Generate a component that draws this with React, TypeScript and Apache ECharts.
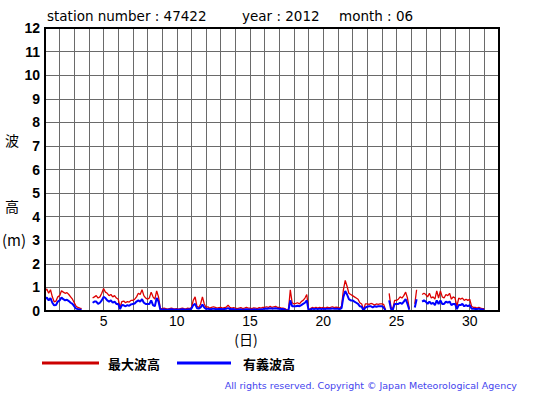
import React, { useEffect, useRef } from "react";
import * as echarts from "echarts";

// 3-hourly readings, day 1 00h .. day 31 00h
const maxWave: (number | null)[] = [
  // day 1
  0.85, 0.93, 0.75, 0.9, 0.6, 0.39, 0.42, 0.6,
  // day 2
  0.65, 0.86, 0.8, 0.75, 0.78, 0.7, 0.6, 0.5,
  // day 3
  0.35, 0.2, 0.15, 0.12, 0.1, null, 0.1, null,
  // day 4
  null, null, 0.55, 0.6, 0.65, 0.55, 0.6, 0.75,
  // day 5
  0.95, 0.8, 0.75, 0.65, 0.7, 0.6, 0.65, 0.55,
  // day 6
  0.5, 0.15, 0.4, 0.42, 0.35, 0.4, 0.38, 0.45,
  // day 7
  0.45, 0.5, 0.6, 0.75, 0.7, 0.9, 0.65, 0.55,
  // day 8
  0.5, 0.55, 0.8, 0.6, 0.5, 0.85, 0.6, 0.1,
  // day 9
  0.1, 0.12, 0.1, 0.08, 0.1, 0.12, 0.1, 0.09,
  // day 10
  0.1, 0.08, 0.1, 0.12, 0.1, 0.09, 0.12, 0.1,
  // day 11
  0.15, 0.45, 0.6, 0.2, 0.15, 0.3, 0.6, 0.3,
  // day 12
  0.15, 0.18, 0.12, 0.15, 0.18, 0.15, 0.12, 0.14,
  // day 13
  0.15, 0.12, 0.14, 0.16, 0.25, 0.15, 0.12, 0.14,
  // day 14
  0.12, 0.1, 0.12, 0.14, 0.1, 0.12, 0.15, 0.12,
  // day 15
  0.12, 0.1, 0.13, 0.12, 0.1, 0.14, 0.12, 0.15,
  // day 16
  0.15, 0.18, 0.15, 0.2, 0.15, 0.18, 0.2, 0.15,
  // day 17
  0.15, 0.12, 0.12, 0.1, 0.05, 0.05, 0.9, 0.35,
  // day 18
  0.3, 0.32, 0.35, 0.3, 0.4, 0.45, 0.55, 0.7,
  // day 19
  0.05, 0.1, 0.15, 0.12, 0.15, 0.12, 0.15, 0.13,
  // day 20
  0.15, 0.12, 0.16, 0.14, 0.15, 0.18, 0.14, 0.16,
  // day 21
  0.15, 0.12, 0.2, 0.9, 1.3, 1.05, 0.75, 0.7,
  // day 22
  0.65, 0.6, 0.55, 0.5, 0.35, 0.3, 0.05, 0.3,
  // day 23
  0.3, 0.28, 0.32, 0.3, 0.25, 0.3, 0.28, 0.3,
  // day 24
  0.3, 0.28, 0.05, null, 0.75, 0.15, 0.1, 0.45,
  // day 25
  0.45, 0.5, 0.6, 0.55, 0.65, 0.8, 0.55, 0.1,
  // day 26
  null, null, 0.3, 0.9, null, null, 0.7, 0.75,
  // day 27
  0.7, 0.6, 0.75, 0.55, 0.6, 0.5, 0.85, 0.55,
  // day 28
  0.85, 0.6, 0.55, 0.7, 0.65, 0.75, 0.5, 0.6,
  // day 29
  0.55, 0.2, 0.55, 0.5, 0.55, 0.45, 0.5, 0.45,
  // day 30
  0.5, 0.2, 0.15, 0.15, 0.12, 0.15, 0.12, 0.1,
  // day 31 00h
  0.1,
];

const sigWave: (number | null)[] = [
  0.5, 0.57, 0.45, 0.55, 0.35, 0.24, 0.25, 0.4,
  0.45, 0.57, 0.5, 0.45, 0.48, 0.42, 0.35, 0.3,
  0.2, 0.1, 0.08, 0.06, 0.05, null, 0.04, null,
  null, null, 0.35, 0.4, 0.4, 0.3, 0.35, 0.45,
  0.6, 0.55, 0.45, 0.4, 0.45, 0.35, 0.4, 0.3,
  0.3, 0.08, 0.25, 0.24, 0.2, 0.25, 0.22, 0.28,
  0.3, 0.32, 0.4, 0.45, 0.4, 0.5, 0.35, 0.3,
  0.3, 0.3, 0.45, 0.25, 0.2, 0.55, 0.4, 0.05,
  0.06, 0.07, 0.05, 0.05, 0.06, 0.07, 0.06, 0.05,
  0.06, 0.05, 0.06, 0.07, 0.06, 0.05, 0.07, 0.06,
  0.1, 0.25, 0.3, 0.12, 0.1, 0.15, 0.28, 0.15,
  0.08, 0.1, 0.07, 0.08, 0.1, 0.08, 0.07, 0.08,
  0.08, 0.07, 0.08, 0.09, 0.12, 0.08, 0.07, 0.08,
  0.06, 0.05, 0.06, 0.07, 0.05, 0.06, 0.08, 0.06,
  0.06, 0.05, 0.07, 0.06, 0.05, 0.07, 0.06, 0.08,
  0.1, 0.11, 0.1, 0.12, 0.1, 0.11, 0.12, 0.1,
  0.1, 0.08, 0.08, 0.06, 0.02, 0.03, 0.45, 0.2,
  0.2, 0.2, 0.22, 0.2, 0.25, 0.3, 0.35, 0.45,
  0.02, 0.06, 0.1, 0.08, 0.1, 0.08, 0.1, 0.08,
  0.1, 0.08, 0.1, 0.09, 0.1, 0.11, 0.09, 0.1,
  0.1, 0.08, 0.12, 0.6, 0.85, 0.7, 0.5, 0.45,
  0.45, 0.4, 0.35, 0.3, 0.2, 0.18, 0.02, 0.15,
  0.18, 0.2, 0.2, 0.15, 0.2, 0.18, 0.2, 0.2,
  0.2, 0.15, 0.02, null, 0.45, 0.08, 0.05, 0.3,
  0.3, 0.3, 0.35, 0.3, 0.4, 0.5, 0.3, 0.05,
  null, null, 0.15, 0.5, null, null, 0.4, 0.45,
  0.4, 0.3, 0.4, 0.3, 0.35, 0.25, 0.45, 0.3,
  0.45, 0.3, 0.3, 0.4, 0.35, 0.4, 0.25, 0.3,
  0.3, 0.08, 0.25, 0.25, 0.3, 0.2, 0.25, 0.2,
  0.25, 0.1, 0.1, 0.08, 0.08, 0.1, 0.07, 0.06,
  0.05,
];

const STEPS_PER_DAY = 8;
const FIRST_DAY = 1;
const xTickLabels = [5, 10, 15, 20, 25, 30];
const titleParts = ["station number : 47422", "year : 2012", "month : 06"];
const legendNames = ["最大波高", "有義波高"];
const copyright = "All rights reserved. Copyright © Japan Meteorological Agency";

const toPairs = (arr: (number | null)[]) =>
  arr.map((v, i) => [FIRST_DAY + i / STEPS_PER_DAY, v]);

export default function App() {
  const ref = useRef<HTMLDivElement>(null);
  useEffect(() => {
    if (!ref.current) return;
    const chart = echarts.init(ref.current, null, { renderer: "svg" });
    const gridL = 45, gridT = 28, gridW = 454, gridH = 283;
    const titleFont = {
      fontSize: 13.5,
      fontFamily: "DejaVu Sans, Verdana, sans-serif",
      fill: "#000",
      verticalAlign: "middle",
    };
    chart.setOption({
      animation: false,
      backgroundColor: "#fff",
      grid: { left: gridL, top: gridT, width: gridW, height: gridH },
      xAxis: {
        type: "value",
        min: 1,
        max: 32,
        interval: 1,
        axisLine: { show: false },
        axisTick: { show: false },
        splitLine: { show: true, lineStyle: { color: "#6a6a6a", width: 1 } },
        axisLabel: {
          color: "#000",
          fontSize: 14,
          fontFamily: "Liberation Sans, Arial, sans-serif",
          margin: 3,
          formatter: (v: number) => (xTickLabels.includes(v) ? String(v) : ""),
        },
      },
      yAxis: {
        type: "value",
        min: 0,
        max: 12,
        interval: 1,
        axisLine: { show: false },
        axisTick: { show: false },
        splitLine: { show: true, lineStyle: { color: "#6a6a6a", width: 1 } },
        axisLabel: {
          color: "#000",
          fontSize: 14,
          fontWeight: "bold",
          fontFamily: "Liberation Sans, Arial, sans-serif",
          margin: 5,
        },
      },
      series: [
        {
          name: legendNames[0],
          type: "line",
          data: toPairs(maxWave),
          showSymbol: false,
          connectNulls: false,
          lineStyle: { color: "#dd0000", width: 1.3 },
          z: 3,
        },
        {
          name: legendNames[1],
          type: "line",
          data: toPairs(sigWave),
          showSymbol: false,
          connectNulls: false,
          lineStyle: { color: "#0000ff", width: 2 },
          z: 4,
        },
      ],
      graphic: [
        {
          type: "rect",
          shape: { x: gridL, y: gridT, width: gridW, height: gridH },
          style: { fill: "none", stroke: "#000", lineWidth: 2 },
          z: 100,
        },
        { type: "text", x: 47, y: 16, style: { text: titleParts[0], ...titleFont } },
        { type: "text", x: 242, y: 16, style: { text: titleParts[1], ...titleFont } },
        { type: "text", x: 339, y: 16, style: { text: titleParts[2], ...titleFont } },
        {
          type: "text",
          x: 12,
          y: 140,
          style: { text: "波", fontSize: 14, fontFamily: "Noto Sans CJK JP", fill: "#000", align: "center", verticalAlign: "middle" },
        },
        {
          type: "text",
          x: 12,
          y: 206,
          style: { text: "高", fontSize: 14, fontFamily: "Noto Sans CJK JP", fill: "#000", align: "center", verticalAlign: "middle" },
        },
        {
          type: "text",
          x: 14,
          y: 239,
          style: { text: "(m)", fontSize: 15, fontFamily: "Noto Sans CJK JP", fill: "#000", align: "center", verticalAlign: "middle" },
        },
        {
          type: "text",
          x: 246,
          y: 339,
          style: { text: "(日)", fontSize: 14, fontFamily: "Noto Sans CJK JP", fill: "#000", align: "center", verticalAlign: "middle" },
        },
        {
          type: "line",
          shape: { x1: 42, y1: 363, x2: 99, y2: 363 },
          style: { stroke: "#cc0000", lineWidth: 3 },
        },
        {
          type: "text",
          x: 108,
          y: 363,
          style: { text: legendNames[0], fontSize: 13, fontWeight: "bold", fontFamily: "Noto Sans CJK JP", fill: "#000", verticalAlign: "middle" },
        },
        {
          type: "line",
          shape: { x1: 177, y1: 363, x2: 231, y2: 363 },
          style: { stroke: "#0000ff", lineWidth: 3 },
        },
        {
          type: "text",
          x: 243,
          y: 363,
          style: { text: legendNames[1], fontSize: 13, fontWeight: "bold", fontFamily: "Noto Sans CJK JP", fill: "#000", verticalAlign: "middle" },
        },
        {
          type: "text",
          x: 517,
          y: 385,
          style: {
            text: copyright,
            fontSize: 9.5,
            fontFamily: "DejaVu Sans, Verdana, sans-serif",
            fill: "#4444ee",
            align: "right",
            verticalAlign: "middle",
          },
        },
      ],
    });
    return () => chart.dispose();
  }, []);
  return (
    <div
      ref={ref}
      style={{ position: "fixed", left: 0, top: 0, width: 555, height: 395, background: "#fff" }}
    />
  );
}
